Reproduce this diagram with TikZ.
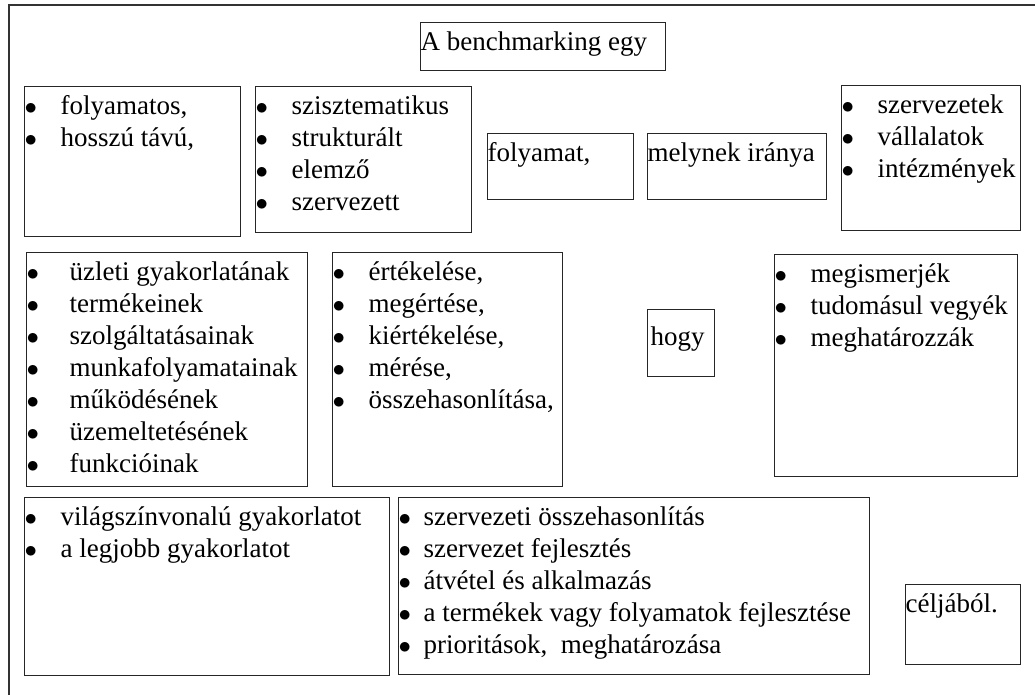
\documentclass[tikz,border=0pt]{standalone}
\usepackage{fontspec}
\setmainfont{Liberation Serif}
\usepackage{tikz}
\usetikzlibrary{positioning}

% bullet lines inside the boxes
\newlength{\itmind}
\setlength{\itmind}{36pt}
\newcommand{\itm}[1]{\makebox[\itmind][l]{$\bullet$}#1\par}
\newcommand{\boxtext}[4][5pt]{\parbox[t][#3pt][t]{#2pt}{\fontsize{27}{32}\selectfont
	\setlength{\parindent}{0pt}\leftskip=2pt\raggedright
	\vspace*{#1}\strut#4}}

\begin{document}
\begin{tikzpicture}[x=1pt,y=-1pt,
		cellbox/.style={
			% The shape:
			rectangle,inner sep=0pt,anchor=north west,
			% The rest
			line width=1.3pt,draw=black!85},
		frame/.style={line width=1.6pt,draw=black!80}]
	\useasboundingbox (0,0) rectangle (1035,695);
	\draw[frame] (9,695) |- (1035,5);

	\node (c_bench)    [cellbox] at (420,22)  {\boxtext{245}{48}{A benchmarking egy}};
	% first row
	\node (c_fol)      [cellbox] at (24,86)   {\boxtext{216}{150}{\itm{folyamatos,}\itm{hosszú távú,}}};
	\node (c_szis)     [cellbox] at (255,86)  {\boxtext{216}{146}{\itm{szisztematikus}\itm{strukturált}\itm{elemző}\itm{szervezett}}};
	\node (c_folyamat) [cellbox] at (487,133) {\boxtext{146}{66}{folyamat,}};
	\node (c_irany)    [cellbox] at (647,133) {\boxtext{179}{66}{melynek iránya}};
	\node (c_szerv)    [cellbox] at (841,85)  {\boxtext{179}{145}{\itm{szervezetek}\itm{vállalatok}\itm{intézmények}}};
	% second row
	\node (c_uzleti)   [cellbox] at (26,252)  {\boxtext{281}{234}{\setlength{\itmind}{43pt}%
		\itm{üzleti gyakorlatának}\itm{termékeinek}\itm{szolgáltatásainak}\itm{munkafolyamatainak}%
		\itm{működésének}\itm{üzemeltetésének}\itm{funkcióinak}}};
	\node (c_ertek)    [cellbox] at (332,252) {\boxtext{230}{234}{\itm{értékelése,}\itm{megértése,}%
		\itm{kiértékelése,}\itm{mérése,}\itm{összehasonlítása,}}};
	\node (c_hogy)     [cellbox] at (647,309) {\boxtext[13pt]{67}{67}{\hspace{3pt}hogy}};
	\node (c_megism)   [cellbox] at (774,254) {\boxtext{243}{222}{\itm{megismerjék}\itm{tudomásul vegyék}\itm{meghatározzák}}};
	% third row
	\node (c_vilag)    [cellbox] at (24,497)  {\boxtext{365}{178}{\itm{világszínvonalú gyakorlatot}\itm{a legjobb gyakorlatot}}};
	\node (c_cel)      [cellbox] at (398,497) {\boxtext{471}{177}{\setlength{\itmind}{25pt}%
		\itm{szervezeti összehasonlítás}\itm{szervezet fejlesztés}\itm{átvétel és alkalmazás}%
		\itm{a termékek vagy folyamatok fejlesztése}\itm{prioritások,~ meghatározása}}};
	\node (c_celj)     [cellbox] at (905,584) {\boxtext{115}{80}{céljából.}};
\end{tikzpicture}
\end{document}
